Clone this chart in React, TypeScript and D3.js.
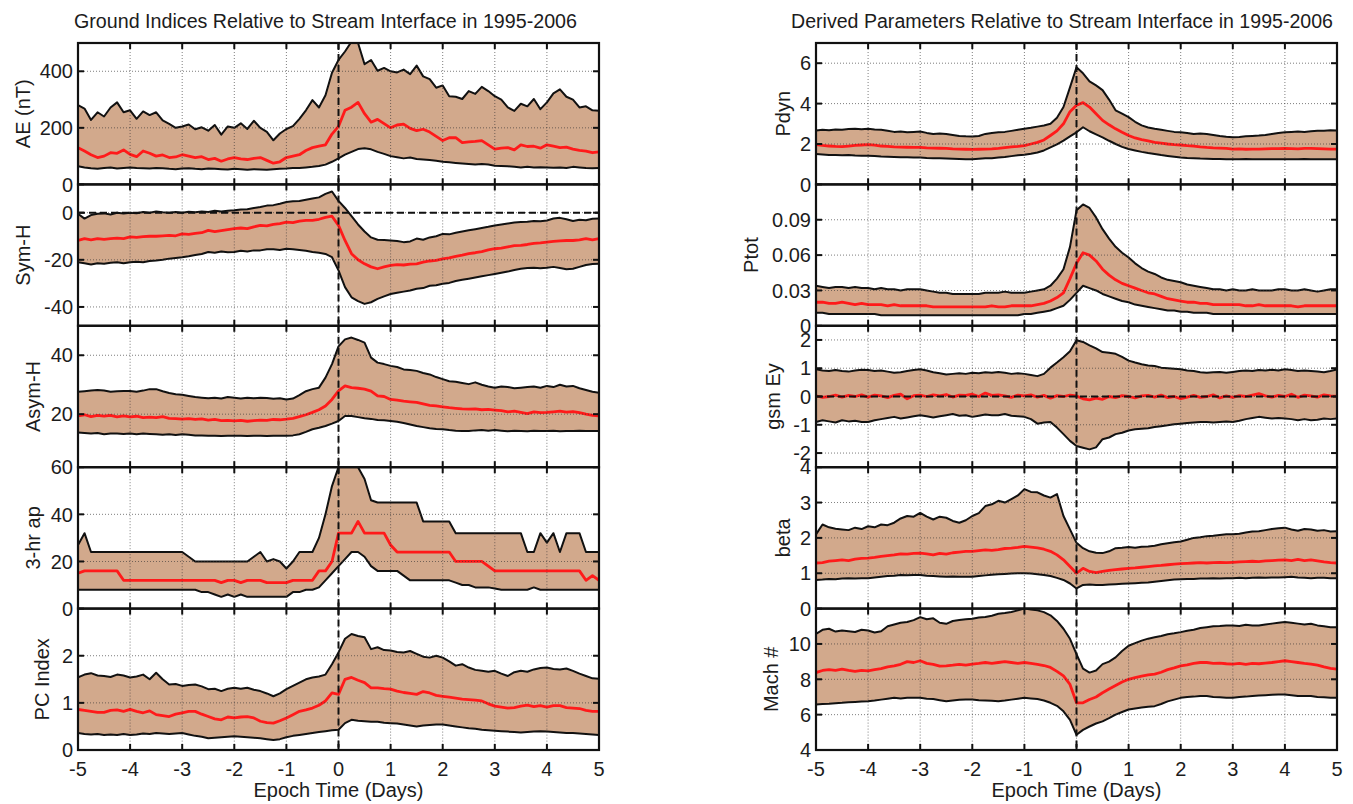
import React from 'react';
import * as d3 from 'd3';

// time grid: 3-hour samples from -5 to +5 days
const T: number[] = d3.range(81).map((i) => -5 + i * 0.125);
const X_TICKS = [-5, -4, -3, -2, -1, 0, 1, 2, 3, 4, 5];
const X_TICK_LABELS = ['-5', '-4', '-3', '-2', '-1', '0', '1', '2', '3', '4', '5'];

const LEFT_TITLE = 'Ground Indices Relative to Stream Interface in 1995-2006';
const RIGHT_TITLE = 'Derived Parameters Relative to Stream Interface in 1995-2006';
const X_LABEL = 'Epoch Time (Days)';

// ---------- AE ----------
const AE_HI = [280, 268, 228, 255, 240, 272, 290, 255, 262, 232, 258, 245, 255, 226, 214, 200, 205, 212, 195, 202, 190, 210, 176, 205, 200, 216, 196, 225, 200, 186, 156, 180, 196, 206, 232, 262, 298, 272, 315, 395, 440, 470, 505, 500, 425, 440, 402, 412, 400, 396, 406, 390, 420, 382, 372, 342, 350, 312, 310, 302, 330, 320, 345, 330, 312, 300, 272, 260, 285, 276, 302, 266, 290, 322, 336, 310, 300, 272, 276, 262, 260];
const AE_MED = [130, 118, 105, 95, 100, 112, 110, 122, 106, 98, 118, 110, 100, 104, 95, 97, 105, 100, 95, 98, 88, 92, 82, 90, 95, 90, 88, 92, 95, 85, 75, 80, 95, 100, 105, 120, 130, 135, 140, 178, 205, 262, 273, 290, 250, 220, 230, 215, 200, 210, 213, 198, 190, 195, 185, 170, 155, 165, 165, 148, 150, 152, 155, 140, 125, 128, 130, 122, 140, 134, 135, 128, 140, 135, 130, 132, 125, 120, 118, 112, 115];
const AE_LO = [64, 60, 57, 55, 58, 60, 56, 58, 60, 58, 57, 56, 58, 57, 55, 54, 56, 57, 55, 54, 56, 55, 54, 53, 55, 54, 52, 54, 53, 52, 54, 55, 56, 58, 58, 60, 62, 65, 70, 80, 92, 105, 115, 125, 128, 124, 115, 108, 100, 96, 92, 95, 90, 88, 86, 84, 80, 78, 76, 74, 72, 70, 72, 70, 66, 65, 64, 62, 60, 62, 60, 61, 60, 59, 60, 58, 62, 60, 58, 57, 58];
const AE_DOMAIN = [0, 500];
const AE_TICKS = [0, 200, 400];
const AE_TICK_LABELS = ['0', '200', '400'];

// ---------- Sym-H ----------
const SYMH_HI = [-0.5, -2.5, -1, -0.5, -0.3, -0.8, 0, -0.3, 0, -0.2, 0.3, 0, 0.5, 0.2, 0, 0.3, 0, 0.4, 0.2, 0.5, 0.3, 0.8, 0.5, 0.8, 1, 1.3, 1.5, 2, 2.4, 3, 3.2, 3.8, 4.5, 4.8, 5, 5.5, 6, 6.5, 8, 9, 5, 2, -1.5, -5, -8, -10.5, -11.5, -11.6, -11.8, -12, -12.5, -12.2, -11, -11.5, -10.5, -10, -9, -9.2, -8.5, -8, -7.5, -7, -6.5, -6, -5.4, -5, -4.6, -4.2, -4, -3.8, -3.5, -3.6, -3.3, -2.5, -2.2, -2.8, -3.5, -3, -3.2, -2.6, -2.5];
const SYMH_MED = [-11.8, -11, -11.5, -11, -11.3, -11, -10.8, -11, -10.3, -10.5, -10.2, -10, -10, -9.8, -9.6, -9.8, -9, -9.2, -8.8, -8.5, -7.5, -8, -7.6, -7.2, -6.8, -6.5, -6.8, -6, -5.4, -5.6, -5, -4.6, -4, -4.2, -3.6, -3.3, -3.3, -2.8, -2, -1.5, -5.4, -11.8, -17.4, -20, -21.7, -23, -23.8, -23, -22.4, -22, -22.2, -21.8, -21.7, -21, -20.5, -20.2, -19.6, -19.2, -18.5, -18, -17.4, -17, -16.5, -15.8, -15.3, -15, -14.5, -14, -13.9, -13.5, -13, -12.8, -12.5, -12.2, -12, -11.8, -11.8, -11.5, -11, -11.5, -11];
const SYMH_LO = [-21, -21.5, -22, -21.5, -21.7, -21.2, -21, -21.5, -21, -20.8, -21, -20.5, -20.3, -20, -19.5, -19.2, -18.9, -18.5, -18, -17.5, -16.7, -17, -16.5, -16.8, -16.7, -16.2, -16.5, -16, -16, -15.5, -15.5, -15.8, -15.3, -15.5, -15.8, -16.2, -16.7, -17, -17.5, -18.9, -24.5, -31.6, -35.9, -37.5, -38.7, -38, -36.6, -35.5, -34.5, -34, -33.5, -33, -32.3, -32, -31, -30.8, -30.2, -29.8, -29, -28.5, -28, -27.5, -27, -26.5, -26, -25.5, -25, -24.3, -23.8, -23.5, -23.4, -23.6, -23.4, -23, -23.5, -24, -23.8, -23, -22.2, -21.8, -21.7];
const SYMH_DOMAIN = [-48, 12];
const SYMH_TICKS = [-40, -20, 0];
const SYMH_TICK_LABELS = ['-40', '-20', '0'];

// ---------- Asym-H ----------
const ASYM_HI = [27.6, 27.8, 28, 28.2, 28, 27.6, 27.8, 27.9, 27.9, 27.6, 28, 28.5, 28.5, 27.8, 27.2, 26.8, 26.6, 26.2, 25.8, 25.6, 25.4, 25.6, 25.3, 25.8, 25.6, 25.3, 25.6, 25.4, 25.6, 25.5, 25.2, 25.4, 25, 25.3, 26.5, 27.8, 28.5, 29, 32.4, 37, 43, 45.4, 46, 45.2, 44.3, 39.2, 37.5, 37, 36.4, 36, 35.2, 35, 34.7, 34, 33.5, 32.6, 31.9, 31.2, 31, 30.6, 30.2, 30.8, 30, 29.4, 29, 29.4, 29.2, 28.8, 29, 29.2, 29.4, 29, 29.6, 29.2, 30, 29.4, 29.6, 28.8, 28.2, 27.6, 27.3];
const ASYM_MED = [19.4, 19.8, 19.2, 19.6, 19.3, 19.6, 19.1, 19.4, 19.1, 19.3, 18.8, 19, 18.8, 19.2, 18.6, 18.5, 18.3, 18.5, 18.2, 18.4, 18, 18.2, 17.8, 17.9, 17.7, 17.9, 17.6, 17.8, 18, 17.9, 18.2, 18.1, 18.3, 18.6, 19.2, 19.8, 20.6, 21.5, 22.8, 25, 27.9, 29.6, 29, 28.8, 28.5, 27.8, 26.2, 26, 25, 24.8, 24.4, 24.2, 24, 23.5, 23, 22.8, 22.5, 22.2, 22, 21.8, 21.7, 21.8, 21.5, 21.6, 21.4, 21.2, 20.8, 21, 20.6, 20.2, 20.8, 20.5, 20.6, 20.8, 21, 20.7, 20.9, 20.5, 20, 19.6, 19.4];
const ASYM_LO = [13.8, 13.6, 13.4, 13.6, 13.2, 13.4, 13.4, 13.3, 13.4, 13.2, 13.4, 13.3, 13.2, 13.0, 13.2, 12.9, 13.2, 13, 12.8, 12.8, 12.7, 12.7, 12.6, 12.7, 12.7, 12.7, 12.6, 12.7, 12.7, 12.6, 12.7, 12.7, 12.7, 12.8, 13.2, 14, 14.9, 15.4, 16, 16.8, 17.7, 19.4, 19.4, 19, 18.6, 18.4, 18, 17.9, 17.7, 17.4, 17, 16.5, 16, 15.6, 15.2, 15, 14.9, 14.6, 14.4, 14.3, 14.3, 14.5, 14.6, 14.4, 14.6, 14.4, 14.2, 14.4, 14.3, 14.2, 14.4, 14.3, 14.3, 14.4, 14.2, 14.3, 14.3, 14.4, 14.3, 14.3, 14.3];
const ASYM_DOMAIN = [2, 50];
const ASYM_TICKS = [20, 40];
const ASYM_TICK_LABELS = ['20', '40'];

// ---------- 3-hr ap ----------
const AP_HI = [27, 32, 24, 24, 24, 24, 24, 24, 24, 24, 24, 24, 24, 24, 24, 24, 24, 22, 20, 20, 20, 20, 20, 20, 20, 20, 20, 22, 24, 20, 21, 20, 17, 20, 24, 24, 24, 30, 40, 52, 60, 60, 60, 60, 55, 46, 45, 45, 45, 45, 45, 45, 45, 37, 37, 37, 37, 37, 32, 32, 32, 32, 32, 32, 32, 32, 32, 32, 32, 24, 24, 32, 28, 32, 24, 32, 32, 32, 24, 24, 24];
const AP_MED = [15, 16, 16, 16, 16, 16, 16, 12, 12, 12, 12, 12, 12, 12, 12, 12, 12, 12, 12, 12, 12, 12, 11, 12, 12, 11, 12, 12, 12, 11, 11, 11, 11, 12, 12, 12, 12, 16, 16, 20, 32, 32, 32, 37, 32, 32, 32, 32, 27, 24, 24, 24, 24, 24, 24, 24, 24, 24, 20, 20, 20, 20, 20, 18, 16, 16, 16, 16, 16, 16, 16, 16, 16, 16, 16, 16, 16, 16, 12, 14, 12];
const AP_LO = [8, 8, 8, 8, 8, 8, 8, 8, 8, 8, 8, 8, 8, 8, 8, 8, 8, 8, 8, 7, 7, 6, 5, 6, 5, 6, 5, 5, 5, 5, 5, 5, 5, 7, 7, 8, 8, 9, 12, 15, 18, 21, 24, 24, 22, 18, 16, 16, 16, 16, 14, 12, 12, 12, 12, 12, 12, 12, 11, 10, 10, 9, 9, 9, 8.5, 8, 8, 8, 8, 8, 9, 8, 8, 8, 8, 8, 8, 8, 8, 8, 8];
const AP_DOMAIN = [0, 60];
const AP_TICKS = [0, 20, 40, 60];
const AP_TICK_LABELS = ['0', '20', '40', '60'];

// ---------- PC Index ----------
const PC_HI = [1.54, 1.6, 1.63, 1.58, 1.57, 1.55, 1.6, 1.58, 1.54, 1.56, 1.6, 1.5, 1.64, 1.5, 1.39, 1.4, 1.36, 1.38, 1.39, 1.35, 1.29, 1.3, 1.25, 1.3, 1.32, 1.3, 1.32, 1.28, 1.25, 1.2, 1.14, 1.2, 1.29, 1.36, 1.43, 1.5, 1.54, 1.56, 1.6, 1.82, 2.07, 2.36, 2.46, 2.42, 2.39, 2.14, 2.18, 2.12, 2.11, 2.08, 2.07, 2.1, 2.04, 1.98, 1.96, 2.0, 1.96, 1.88, 1.79, 1.82, 1.75, 1.7, 1.68, 1.66, 1.68, 1.62, 1.57, 1.65, 1.68, 1.66, 1.71, 1.74, 1.75, 1.72, 1.71, 1.73, 1.68, 1.62, 1.57, 1.52, 1.51];
const PC_MED = [0.86, 0.84, 0.82, 0.8, 0.8, 0.84, 0.85, 0.82, 0.86, 0.82, 0.79, 0.83, 0.75, 0.73, 0.71, 0.76, 0.79, 0.82, 0.82, 0.76, 0.71, 0.66, 0.64, 0.7, 0.68, 0.7, 0.71, 0.68, 0.61, 0.58, 0.57, 0.62, 0.68, 0.75, 0.82, 0.85, 0.89, 0.95, 1.04, 1.21, 1.18, 1.5, 1.54, 1.48, 1.43, 1.32, 1.32, 1.3, 1.29, 1.25, 1.22, 1.2, 1.18, 1.24, 1.21, 1.16, 1.14, 1.12, 1.1, 1.08, 1.07, 1.06, 1.04, 0.98, 0.93, 0.91, 0.89, 0.9, 0.93, 0.95, 0.92, 0.94, 0.91, 0.94, 0.94, 0.9, 0.89, 0.88, 0.84, 0.82, 0.82];
const PC_LO = [0.36, 0.34, 0.33, 0.34, 0.32, 0.33, 0.32, 0.34, 0.32, 0.33, 0.35, 0.34, 0.36, 0.35, 0.34, 0.35, 0.36, 0.33, 0.3, 0.28, 0.25, 0.26, 0.27, 0.28, 0.29, 0.28, 0.27, 0.26, 0.25, 0.23, 0.21, 0.23, 0.27, 0.3, 0.32, 0.34, 0.36, 0.38, 0.4, 0.42, 0.43, 0.57, 0.64, 0.62, 0.61, 0.6, 0.6, 0.58, 0.57, 0.56, 0.54, 0.52, 0.5, 0.52, 0.53, 0.54, 0.54, 0.52, 0.5, 0.48, 0.46, 0.45, 0.43, 0.42, 0.41, 0.4, 0.39, 0.38, 0.37, 0.38, 0.39, 0.4, 0.39, 0.38, 0.37, 0.36, 0.36, 0.35, 0.34, 0.33, 0.32];
const PC_DOMAIN = [0, 3];
const PC_TICKS = [0, 1, 2];
const PC_TICK_LABELS = ['0', '1', '2'];

// ---------- Pdyn ----------
const PDYN_HI = [2.67, 2.7, 2.68, 2.72, 2.7, 2.74, 2.75, 2.73, 2.75, 2.72, 2.7, 2.66, 2.6, 2.62, 2.58, 2.6, 2.62, 2.55, 2.5, 2.52, 2.5, 2.45, 2.4, 2.38, 2.37, 2.4, 2.5, 2.55, 2.58, 2.6, 2.65, 2.7, 2.75, 2.8, 2.86, 2.92, 3.0, 3.3, 3.83, 4.8, 5.8, 5.5, 5.1, 4.9, 4.67, 4.2, 3.67, 3.5, 3.33, 3.1, 2.92, 2.82, 2.75, 2.7, 2.65, 2.6, 2.58, 2.55, 2.5, 2.52, 2.5, 2.45, 2.4, 2.36, 2.33, 2.35, 2.38, 2.4, 2.42, 2.45, 2.5, 2.55, 2.58, 2.6, 2.62, 2.6, 2.63, 2.65, 2.66, 2.68, 2.67];
const PDYN_MED = [1.97, 1.93, 1.9, 1.88, 1.87, 1.9, 1.93, 1.95, 1.97, 1.94, 1.9, 1.88, 1.86, 1.85, 1.84, 1.83, 1.83, 1.81, 1.8, 1.79, 1.78, 1.76, 1.75, 1.74, 1.73, 1.74, 1.75, 1.76, 1.78, 1.82, 1.86, 1.88, 1.92, 2.0, 2.08, 2.2, 2.42, 2.65, 3.0, 3.6, 3.92, 4.05, 3.83, 3.5, 3.17, 2.95, 2.75, 2.58, 2.42, 2.3, 2.22, 2.15, 2.08, 2.04, 2.0, 1.97, 1.95, 1.92, 1.9, 1.86, 1.83, 1.81, 1.8, 1.78, 1.75, 1.76, 1.74, 1.75, 1.75, 1.76, 1.77, 1.77, 1.78, 1.77, 1.76, 1.78, 1.78, 1.77, 1.76, 1.75, 1.75];
const PDYN_LO = [1.5, 1.48, 1.46, 1.45, 1.44, 1.45, 1.43, 1.42, 1.42, 1.4, 1.38, 1.37, 1.36, 1.35, 1.34, 1.33, 1.33, 1.31, 1.3, 1.29, 1.28, 1.27, 1.26, 1.25, 1.25, 1.27, 1.29, 1.3, 1.33, 1.36, 1.4, 1.44, 1.47, 1.52, 1.58, 1.68, 1.83, 1.98, 2.17, 2.38, 2.58, 2.83, 2.63, 2.48, 2.33, 2.16, 2.0, 1.86, 1.75, 1.68, 1.61, 1.55, 1.5, 1.45, 1.41, 1.37, 1.33, 1.31, 1.3, 1.28, 1.27, 1.26, 1.26, 1.25, 1.25, 1.25, 1.26, 1.25, 1.25, 1.24, 1.25, 1.25, 1.25, 1.24, 1.25, 1.26, 1.25, 1.24, 1.25, 1.25, 1.25];
const PDYN_DOMAIN = [0, 7];
const PDYN_TICKS = [0, 2, 4, 6];
const PDYN_TICK_LABELS = ['0', '2', '4', '6'];

// ---------- Ptot ----------
const PTOT_HI = [0.034, 0.033, 0.032, 0.033, 0.033, 0.032, 0.033, 0.032, 0.032, 0.031, 0.032, 0.031, 0.031, 0.030, 0.031, 0.031, 0.031, 0.030, 0.029, 0.028, 0.028, 0.027, 0.027, 0.027, 0.027, 0.027, 0.028, 0.028, 0.028, 0.029, 0.028, 0.028, 0.028, 0.029, 0.030, 0.031, 0.034, 0.040, 0.048, 0.067, 0.098, 0.103, 0.100, 0.092, 0.082, 0.074, 0.067, 0.062, 0.058, 0.053, 0.049, 0.046, 0.044, 0.041, 0.039, 0.038, 0.037, 0.035, 0.034, 0.033, 0.032, 0.031, 0.031, 0.030, 0.031, 0.030, 0.030, 0.031, 0.030, 0.030, 0.030, 0.031, 0.031, 0.030, 0.030, 0.031, 0.030, 0.029, 0.030, 0.031, 0.031];
const PTOT_MED = [0.020, 0.020, 0.019, 0.019, 0.020, 0.019, 0.018, 0.019, 0.018, 0.018, 0.018, 0.017, 0.018, 0.017, 0.017, 0.017, 0.017, 0.017, 0.016, 0.016, 0.016, 0.016, 0.016, 0.016, 0.016, 0.016, 0.016, 0.017, 0.016, 0.016, 0.017, 0.017, 0.017, 0.017, 0.018, 0.019, 0.021, 0.024, 0.028, 0.040, 0.053, 0.062, 0.060, 0.055, 0.048, 0.043, 0.039, 0.036, 0.034, 0.032, 0.030, 0.028, 0.027, 0.025, 0.023, 0.022, 0.021, 0.020, 0.020, 0.019, 0.019, 0.018, 0.018, 0.018, 0.018, 0.018, 0.017, 0.017, 0.018, 0.017, 0.017, 0.017, 0.017, 0.017, 0.016, 0.017, 0.017, 0.017, 0.017, 0.017, 0.017];
const PTOT_LO = [0.011, 0.011, 0.010, 0.010, 0.010, 0.010, 0.010, 0.010, 0.010, 0.010, 0.009, 0.009, 0.009, 0.009, 0.009, 0.009, 0.009, 0.009, 0.009, 0.009, 0.009, 0.009, 0.009, 0.009, 0.009, 0.009, 0.009, 0.009, 0.009, 0.009, 0.009, 0.009, 0.010, 0.010, 0.011, 0.012, 0.013, 0.015, 0.017, 0.022, 0.028, 0.034, 0.032, 0.030, 0.027, 0.025, 0.023, 0.021, 0.020, 0.018, 0.017, 0.016, 0.015, 0.014, 0.013, 0.013, 0.012, 0.012, 0.011, 0.011, 0.011, 0.010, 0.010, 0.010, 0.010, 0.010, 0.010, 0.010, 0.010, 0.010, 0.010, 0.010, 0.010, 0.010, 0.010, 0.010, 0.010, 0.010, 0.010, 0.010, 0.010];
const PTOT_DOMAIN = [0, 0.12];
const PTOT_TICKS = [0, 0.03, 0.06, 0.09];
const PTOT_TICK_LABELS = ['0', '0.03', '0.06', '0.09'];

// ---------- gsm Ey ----------
const EY_HI = [0.96, 0.92, 0.9, 0.94, 0.9, 0.88, 0.92, 0.95, 0.94, 0.9, 0.92, 0.88, 0.84, 0.86, 0.9, 0.94, 0.96, 0.92, 0.86, 0.82, 0.78, 0.8, 0.82, 0.8, 0.84, 0.82, 0.86, 0.84, 0.87, 0.84, 0.8, 0.82, 0.8, 0.76, 0.72, 0.8, 1.02, 1.2, 1.39, 1.6, 1.99, 1.93, 1.81, 1.7, 1.57, 1.55, 1.51, 1.4, 1.27, 1.2, 1.14, 1.1, 1.08, 1.02, 1.0, 0.98, 0.96, 0.92, 0.9, 0.86, 0.84, 0.86, 0.87, 0.84, 0.87, 0.9, 0.92, 0.9, 0.94, 0.92, 0.95, 0.92, 0.96, 0.94, 0.9, 0.92, 0.9, 0.88, 0.86, 0.9, 0.96];
const EY_MED = [0.02, -0.03, 0.0, 0.05, -0.02, 0.04, 0.0, 0.06, -0.02, 0.05, 0.02, -0.04, 0.04, 0.08, -0.08, 0.03, 0.05, 0.0, 0.06, 0.02, 0.07, -0.02, 0.05, 0.04, 0.08, 0.0, 0.12, 0.04, 0.06, 0.02, -0.03, 0.05, 0.02, 0.06, -0.02, 0.04, -0.06, 0.03, 0.0, 0.05, 0.02, -0.08, -0.12, -0.06, -0.1, 0.0, -0.04, 0.03, 0.0, -0.05, 0.02, 0.04, -0.02, 0.05, -0.04, 0.0, -0.08, -0.02, 0.04, -0.03, 0.0, 0.06, -0.05, 0.02, -0.03, 0.03, 0.0, 0.05, 0.1, 0.02, -0.02, 0.04, 0.0, 0.08, -0.03, 0.05, 0.02, -0.02, 0.06, 0.02, 0.01];
const EY_LO = [-0.9, -0.84, -0.88, -0.92, -0.84, -0.88, -0.86, -0.9, -0.9, -0.84, -0.8, -0.76, -0.72, -0.78, -0.74, -0.7, -0.66, -0.7, -0.74, -0.7, -0.66, -0.62, -0.68, -0.66, -0.72, -0.68, -0.64, -0.66, -0.66, -0.62, -0.68, -0.7, -0.72, -0.8, -0.96, -0.92, -0.9, -1.1, -1.33, -1.57, -1.75, -1.81, -1.87, -1.8, -1.51, -1.45, -1.33, -1.28, -1.2, -1.16, -1.14, -1.12, -1.08, -1.05, -1.02, -0.98, -0.96, -0.94, -0.92, -0.9, -0.9, -0.92, -0.9, -0.88, -0.9, -0.86, -0.8, -0.76, -0.72, -0.75, -0.78, -0.76, -0.78, -0.8, -0.84, -0.8, -0.84, -0.82, -0.78, -0.8, -0.78];
const EY_DOMAIN = [-2.5, 2.5];
const EY_TICKS = [-2, -1, 0, 1, 2];
const EY_TICK_LABELS = ['-2', '-1', '0', '1', '2'];

// ---------- beta ----------
const BETA_HI = [2.1, 2.38, 2.3, 2.26, 2.24, 2.22, 2.29, 2.25, 2.33, 2.3, 2.38, 2.36, 2.43, 2.55, 2.62, 2.6, 2.71, 2.6, 2.52, 2.6, 2.57, 2.48, 2.43, 2.5, 2.62, 2.7, 2.9, 2.95, 3.05, 3.0, 3.1, 3.2, 3.38, 3.3, 3.29, 3.2, 3.14, 3.24, 2.62, 2.24, 1.86, 1.71, 1.62, 1.58, 1.57, 1.62, 1.71, 1.72, 1.74, 1.72, 1.75, 1.76, 1.78, 1.82, 1.85, 1.88, 1.9, 1.95, 2.0, 2.02, 2.05, 2.06, 2.08, 2.1, 2.1, 2.12, 2.15, 2.18, 2.19, 2.22, 2.25, 2.27, 2.29, 2.24, 2.2, 2.25, 2.24, 2.2, 2.22, 2.18, 2.19];
const BETA_MED = [1.29, 1.3, 1.34, 1.36, 1.38, 1.36, 1.4, 1.42, 1.43, 1.45, 1.48, 1.5, 1.52, 1.55, 1.54, 1.56, 1.57, 1.55, 1.52, 1.56, 1.54, 1.58, 1.6, 1.62, 1.62, 1.64, 1.66, 1.65, 1.67, 1.7, 1.71, 1.73, 1.76, 1.74, 1.72, 1.68, 1.62, 1.52, 1.38, 1.19, 1.0, 1.14, 1.05, 1.02, 1.05, 1.08, 1.1, 1.12, 1.14, 1.15, 1.17, 1.19, 1.21, 1.22, 1.24, 1.26, 1.27, 1.28, 1.29, 1.3, 1.29, 1.3, 1.31, 1.3, 1.31, 1.32, 1.33, 1.34, 1.33, 1.35, 1.36, 1.37, 1.38, 1.36, 1.39, 1.36, 1.38, 1.35, 1.32, 1.3, 1.29];
const BETA_LO = [0.81, 0.82, 0.84, 0.83, 0.85, 0.86, 0.85, 0.86, 0.86, 0.88, 0.9, 0.92, 0.93, 0.95, 0.94, 0.95, 0.95, 0.93, 0.92, 0.91, 0.9, 0.91, 0.9, 0.9, 0.9, 0.92, 0.94, 0.96, 0.97, 0.98, 0.99, 1.0, 1.0, 0.99, 0.97, 0.95, 0.92, 0.87, 0.81, 0.71, 0.57, 0.67, 0.68, 0.67, 0.67, 0.68, 0.69, 0.7, 0.71, 0.72, 0.73, 0.74, 0.76, 0.78, 0.8, 0.82, 0.83, 0.84, 0.84, 0.85, 0.85, 0.86, 0.85, 0.86, 0.86, 0.87, 0.86, 0.87, 0.88, 0.87, 0.88, 0.88, 0.89, 0.9, 0.88, 0.87, 0.86, 0.87, 0.87, 0.86, 0.86];
const BETA_DOMAIN = [0, 4];
const BETA_TICKS = [0, 1, 2, 3, 4];
const BETA_TICK_LABELS = ['0', '1', '2', '3', '4'];

// ---------- Mach # ----------
const MACH_HI = [10.57, 10.8, 10.86, 10.7, 10.76, 10.72, 10.68, 10.8, 10.76, 10.65, 10.72, 11.0, 11.1, 11.2, 11.24, 11.35, 11.52, 11.4, 11.45, 11.2, 11.14, 11.3, 11.35, 11.4, 11.43, 11.5, 11.52, 11.6, 11.71, 11.75, 11.81, 11.9, 12.0, 11.95, 11.9, 11.8, 11.62, 11.3, 10.86, 10.29, 9.43, 8.6, 8.38, 8.5, 8.86, 9.0, 9.24, 9.6, 9.9, 10.05, 10.19, 10.3, 10.38, 10.45, 10.55, 10.6, 10.67, 10.75, 10.8, 10.9, 10.95, 11.0, 11.02, 11.05, 11.05, 11.02, 11.08, 11.05, 11.05, 11.1, 11.15, 11.2, 11.24, 11.2, 11.15, 11.1, 11.14, 11.05, 11.0, 10.95, 10.95];
const MACH_MED = [8.38, 8.5, 8.55, 8.5, 8.57, 8.5, 8.45, 8.5, 8.48, 8.55, 8.6, 8.7, 8.76, 8.85, 9.0, 8.95, 9.05, 8.9, 8.85, 8.75, 8.76, 8.8, 8.85, 8.8, 8.86, 8.9, 8.95, 8.9, 8.95, 9.0, 8.95, 8.9, 8.95, 8.9, 8.85, 8.78, 8.67, 8.45, 8.19, 7.71, 6.67, 6.67, 6.86, 7.0, 7.24, 7.45, 7.65, 7.85, 8.0, 8.1, 8.18, 8.25, 8.29, 8.4, 8.55, 8.65, 8.76, 8.82, 8.9, 8.95, 8.95, 8.9, 8.92, 8.88, 8.86, 8.9, 8.85, 8.9, 8.88, 8.92, 8.95, 9.0, 9.05, 9.0, 8.95, 8.9, 8.86, 8.8, 8.7, 8.62, 8.57];
const MACH_LO = [6.57, 6.6, 6.62, 6.65, 6.67, 6.7, 6.72, 6.74, 6.76, 6.8, 6.85, 6.9, 6.95, 6.92, 6.95, 6.96, 6.95, 6.9, 6.88, 6.82, 6.76, 6.8, 6.84, 6.86, 6.86, 6.82, 6.8, 6.78, 6.76, 6.8, 6.85, 6.9, 6.95, 6.92, 6.88, 6.8, 6.67, 6.5, 6.19, 5.71, 4.86, 5.14, 5.33, 5.5, 5.62, 5.8, 6.0, 6.15, 6.29, 6.35, 6.4, 6.45, 6.48, 6.6, 6.75, 6.85, 6.95, 7.0, 7.02, 7.05, 7.05, 7.0, 6.98, 6.96, 6.95, 7.0, 7.02, 7.05, 7.08, 7.1, 7.12, 7.14, 7.14, 7.1, 7.05, 7.06, 7.05, 7.0, 6.98, 6.96, 6.95];
const MACH_DOMAIN = [4, 12];
const MACH_TICKS = [4, 6, 8, 10];
const MACH_TICK_LABELS = ['4', '6', '8', '10'];

type PanelCfg = {
  label: string;
  hi: number[];
  med: number[];
  lo: number[];
  domain: number[];
  ticks: number[];
  tickLabels: string[];
  labelX: number;
  zeroLine?: boolean;
};

const LEFT_PANELS: PanelCfg[] = [
  { label: 'AE (nT)', hi: AE_HI, med: AE_MED, lo: AE_LO, domain: AE_DOMAIN, ticks: AE_TICKS, tickLabels: AE_TICK_LABELS, labelX: 23 },
  { label: 'Sym-H', hi: SYMH_HI, med: SYMH_MED, lo: SYMH_LO, domain: SYMH_DOMAIN, ticks: SYMH_TICKS, tickLabels: SYMH_TICK_LABELS, labelX: 23, zeroLine: true },
  { label: 'Asym-H', hi: ASYM_HI, med: ASYM_MED, lo: ASYM_LO, domain: ASYM_DOMAIN, ticks: ASYM_TICKS, tickLabels: ASYM_TICK_LABELS, labelX: 33 },
  { label: '3-hr ap', hi: AP_HI, med: AP_MED, lo: AP_LO, domain: AP_DOMAIN, ticks: AP_TICKS, tickLabels: AP_TICK_LABELS, labelX: 33 },
  { label: 'PC Index', hi: PC_HI, med: PC_MED, lo: PC_LO, domain: PC_DOMAIN, ticks: PC_TICKS, tickLabels: PC_TICK_LABELS, labelX: 42 },
];

const RIGHT_PANELS: PanelCfg[] = [
  { label: 'Pdyn', hi: PDYN_HI, med: PDYN_MED, lo: PDYN_LO, domain: PDYN_DOMAIN, ticks: PDYN_TICKS, tickLabels: PDYN_TICK_LABELS, labelX: 783 },
  { label: 'Ptot', hi: PTOT_HI, med: PTOT_MED, lo: PTOT_LO, domain: PTOT_DOMAIN, ticks: PTOT_TICKS, tickLabels: PTOT_TICK_LABELS, labelX: 751 },
  { label: 'gsm Ey', hi: EY_HI, med: EY_MED, lo: EY_LO, domain: EY_DOMAIN, ticks: EY_TICKS, tickLabels: EY_TICK_LABELS, labelX: 773, zeroLine: true },
  { label: 'beta', hi: BETA_HI, med: BETA_MED, lo: BETA_LO, domain: BETA_DOMAIN, ticks: BETA_TICKS, tickLabels: BETA_TICK_LABELS, labelX: 783 },
  { label: 'Mach #', hi: MACH_HI, med: MACH_MED, lo: MACH_LO, domain: MACH_DOMAIN, ticks: MACH_TICKS, tickLabels: MACH_TICK_LABELS, labelX: 771 },
];

const FONT = '"Liberation Sans", Arial, Helvetica, sans-serif';
const FILL = '#d2a98c';
const TEXT = '#1c1c1c';
const TOP = 43;
const PANEL_H = 141.4;

function Panel({ cfg, x0, x1, top, idx, col, showX }: { cfg: PanelCfg; x0: number; x1: number; top: number; idx: number; col: string; showX: boolean }) {
  const x = d3.scaleLinear().domain([-5, 5]).range([x0, x1]);
  const y = d3.scaleLinear().domain(cfg.domain).range([top + PANEL_H, top]);
  const area = d3
    .area<number>()
    .x((_, i) => x(T[i]))
    .y0((_, i) => y(cfg.lo[i]))
    .y1((_, i) => y(cfg.hi[i]));
  const line = (arr: number[]) =>
    d3
      .line<number>()
      .x((_, i) => x(T[i]))
      .y((d) => y(d))(arr) || '';
  const clipId = `clip-${col}-${idx}`;
  const bottom = top + PANEL_H;
  const tickLen = 6;
  return (
    <g>
      <defs>
        <clipPath id={clipId}>
          <rect x={x0} y={top} width={x1 - x0} height={PANEL_H} />
        </clipPath>
      </defs>
      <g clipPath={`url(#${clipId})`}>
        <path d={area(cfg.hi) || ''} fill={FILL} stroke="none" />
        <path d={line(cfg.hi)} fill="none" stroke="#111" strokeWidth={2} strokeLinejoin="round" />
        <path d={line(cfg.lo)} fill="none" stroke="#111" strokeWidth={2} strokeLinejoin="round" />
        <path d={line(cfg.med)} fill="none" stroke="#ff1a1a" strokeWidth={2.8} strokeLinejoin="round" />
        {/* grid */}
        {X_TICKS.map((t) => (
          <line key={`gx${t}`} x1={x(t)} x2={x(t)} y1={top} y2={bottom} stroke="#333" strokeWidth={0.9} strokeDasharray="1,2" opacity={0.7} />
        ))}
        {cfg.ticks.map((t) => (
          <line key={`gy${t}`} x1={x0} x2={x1} y1={y(t)} y2={y(t)} stroke="#333" strokeWidth={0.9} strokeDasharray="1,2" opacity={0.7} />
        ))}
        {cfg.zeroLine && (
          <line x1={x0} x2={x1} y1={y(0)} y2={y(0)} stroke="#111" strokeWidth={2} strokeDasharray="7,4" />
        )}
        <line x1={x(0)} x2={x(0)} y1={top} y2={bottom} stroke="#111" strokeWidth={2} strokeDasharray="7,4" />
      </g>
      {/* tick marks */}
      {X_TICKS.map((t) => (
        <g key={`tx${t}`}>
          <line x1={x(t)} x2={x(t)} y1={bottom} y2={bottom - tickLen} stroke="#111" strokeWidth={2} />
          <line x1={x(t)} x2={x(t)} y1={top} y2={top + tickLen} stroke="#111" strokeWidth={2} />
        </g>
      ))}
      {cfg.ticks.map((t) => (
        <g key={`ty${t}`}>
          <line x1={x0} x2={x0 + tickLen} y1={y(t)} y2={y(t)} stroke="#111" strokeWidth={2} />
          <line x1={x1} x2={x1 - tickLen} y1={y(t)} y2={y(t)} stroke="#111" strokeWidth={2} />
        </g>
      ))}
      <rect x={x0} y={top} width={x1 - x0} height={PANEL_H} fill="none" stroke="#111" strokeWidth={2.2} />
      {/* y tick labels */}
      {cfg.ticks.map((t, i) => (
        <text key={`yl${t}`} x={x0 - 5} y={y(t)} dy="0.36em" textAnchor="end" fontSize={20} fill={TEXT} fontFamily={FONT}>
          {cfg.tickLabels[i]}
        </text>
      ))}
      <text
        transform={`translate(${cfg.labelX},${top + PANEL_H / 2}) rotate(-90)`}
        textAnchor="middle"
        dy="0.36em"
        fontSize={20}
        fill={TEXT}
        fontFamily={FONT}
      >
        {cfg.label}
      </text>
      {showX &&
        X_TICKS.map((t, i) => (
          <text key={`xl${t}`} x={x(t)} y={bottom + 26} textAnchor="middle" fontSize={20} fill={TEXT} fontFamily={FONT}>
            {X_TICK_LABELS[i]}
          </text>
        ))}
    </g>
  );
}

function Column({ panels, x0, x1, title, titleX, titleLen, col }: { panels: PanelCfg[]; x0: number; x1: number; title: string; titleX: number; titleLen: number; col: string }) {
  return (
    <g>
      <text x={titleX} y={28} fontSize={20} fill={TEXT} fontFamily={FONT} textLength={titleLen} lengthAdjust="spacingAndGlyphs">
        {title}
      </text>
      {panels.map((p, i) => (
        <Panel key={i} cfg={p} x0={x0} x1={x1} top={TOP + i * PANEL_H} idx={i} col={col} showX={i === panels.length - 1} />
      ))}
      <text x={(x0 + x1) / 2} y={797} textAnchor="middle" fontSize={20} fill={TEXT} fontFamily={FONT}>
        {X_LABEL}
      </text>
    </g>
  );
}

export default function App() {
  return (
    <svg width={1353} height={804} style={{ position: 'absolute', left: 0, top: 0, background: '#fff' }}>
      <rect x={0} y={0} width={1353} height={804} fill="#fff" />
      <Column panels={LEFT_PANELS} x0={78} x1={599} title={LEFT_TITLE} titleX={74} titleLen={503} col="L" />
      <Column panels={RIGHT_PANELS} x0={816} x1={1337} title={RIGHT_TITLE} titleX={791} titleLen={542} col="R" />
    </svg>
  );
}
